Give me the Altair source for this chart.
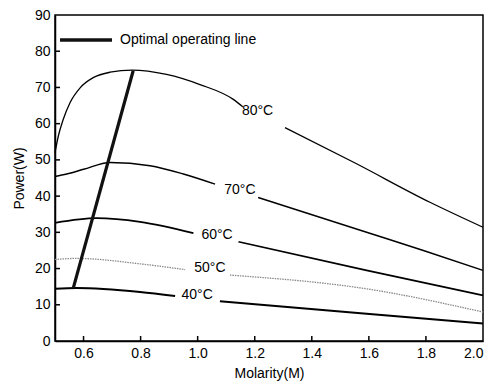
import altair as alt
import pandas as pd

# ---- data ----
c80_x = [0.5, 0.5117, 0.529, 0.5526, 0.588, 0.634, 0.693, 0.77, 0.891, 1.008, 1.125, 1.158, None, 1.306, 1.55, 1.814, 2.0]
c80_y = [52.0, 56.6, 61.2, 65.8, 69.9, 72.7, 74.2, 74.8, 73.6, 70.8, 66.7, 64.7, None, 58.9, 49.2, 38.3, 31.4]
c70_x = [0.5, 0.541, 0.6, 0.693, 0.833, 0.95, 1.061, None, 1.212, 1.592, 1.791, 2.0]
c70_y = [45.4, 46.1, 47.4, 49.3, 48.4, 46.1, 43.3, None, 39.6, 30.0, 25.0, 19.5]
c60_x = [0.5, 0.646, 0.798, 0.985, None, 1.143, 1.592, 2.0]
c60_y = [32.6, 33.9, 32.9, 29.8, None, 27.4, 19.5, 12.6]
c50_x = [0.5, 0.576, 0.798, 0.956, None, 1.113, 1.592, 2.0]
c50_y = [22.5, 22.8, 21.3, 19.7, None, 18.2, 14.4, 8.0]
c40_x = [0.5, 0.576, 0.798, 0.921, None, 1.078, 1.592, 2.0]
c40_y = [14.4, 14.6, 13.5, 12.4, None, 11.0, 7.5, 4.8]

label_text = ["80°C", "70°C", "60°C", "50°C", "40°C"]
label_x = [1.21, 1.148, 1.068, 1.043, 0.998]
label_y = [63.6, 41.8, 29.2, 20.1, 12.7]

opt_x = [0.564, 0.774]
opt_y = [14.6, 74.6]
opt_name = "Optimal operating line"

x_ticks = [0.6, 0.8, 1.0, 1.2, 1.4, 1.6, 1.8, 2.0]
y_ticks = [0, 10, 20, 30, 40, 50, 60, 70, 80, 90]

FONT = "Liberation Sans"
XS = alt.Scale(domain=[0.5, 2.0], nice=False)
YS = alt.Scale(domain=[0, 90], nice=False)

W, H = 428, 326


def curve_df(xs, ys, name):
    rows, seg = [], 0
    for x, y in zip(xs, ys):
        if x is None:
            seg += 1
            continue
        rows.append({"x": x, "y": y, "seg": f"{name}-{seg}"})
    return pd.DataFrame(rows)


xaxis = alt.Axis(values=x_ticks, format=".1f", tickSize=0, labelPadding=5,
                 labelFontSize=14, labelFont=FONT, labelColor="black",
                 title="Molarity(M)", titleFont=FONT, titleFontSize=14,
                 titleFontWeight="normal", titleColor="black", titlePadding=6,
                 domainColor="black", domainWidth=1.5, grid=False)
yaxis = alt.Axis(values=y_ticks, tickSize=0, labelPadding=5,
                 labelFontSize=14, labelFont=FONT, labelColor="black",
                 title="Power(W)", titleFont=FONT, titleFontSize=14,
                 titleFontWeight="normal", titleColor="black", titlePadding=8,
                 domainColor="black", domainWidth=1.5, grid=False)

X = lambda f="x:Q": alt.X(f, scale=XS, axis=xaxis)
Y = lambda f="y:Q": alt.Y(f, scale=YS, axis=yaxis)

styles = {
    "80": dict(color="black", strokeWidth=1.3),
    "70": dict(color="black", strokeWidth=1.5),
    "60": dict(color="black", strokeWidth=1.7),
    "50": dict(color="#8a8a8a", strokeWidth=1.3, strokeDash=[1.5, 1]),
    "40": dict(color="black", strokeWidth=2.0),
}
series = {"80": (c80_x, c80_y), "70": (c70_x, c70_y), "60": (c60_x, c60_y),
          "50": (c50_x, c50_y), "40": (c40_x, c40_y)}

layers = []
for key, (xs, ys) in series.items():
    df = curve_df(xs, ys, key)
    layers.append(alt.Chart(df).mark_line(interpolate="monotone", **styles[key]).encode(
        x=X(), y=Y(), detail="seg:N"))

# inward ticks
xt = pd.DataFrame({"x": x_ticks[:-1]})
layers.append(alt.Chart(xt).mark_rule(color="black", strokeWidth=1.5).encode(
    x=X(), y=alt.value(H), y2=alt.value(H - 5)))
yt = pd.DataFrame({"y": y_ticks[1:-1]})
layers.append(alt.Chart(yt).mark_rule(color="black", strokeWidth=1.5).encode(
    y=Y(), x=alt.value(0), x2=alt.value(5)))

# optimal operating line
odf = pd.DataFrame({"x": opt_x, "y": opt_y, "name": [opt_name] * 2})
layers.append(alt.Chart(odf).mark_line(strokeWidth=3.2).encode(
    x=X(), y=Y(),
    color=alt.Color("name:N", scale=alt.Scale(range=["#111111"]),
                    legend=alt.Legend(title=None, orient="none", legendX=3, legendY=-3,
                                      symbolType="stroke", symbolSize=2700,
                                      symbolStrokeWidth=3.5, labelFont=FONT,
                                      labelFontSize=14, labelColor="black",
                                      labelOffset=6, padding=0)),
))

# temperature labels
ldf = pd.DataFrame({"x": label_x, "y": label_y, "t": label_text})
layers.append(alt.Chart(ldf).mark_text(font=FONT, fontSize=14, color="black").encode(
    x=X(), y=Y(), text="t:N"))

chart = alt.layer(*layers).properties(
    width=W, height=H,
    autosize=alt.AutoSizeParams(type="none"),
    padding={"left": 47, "top": 7, "right": 9, "bottom": 44},
    background="white",
).configure_view(stroke="black", strokeWidth=1.5)

chart.save("out.html", embed_options={"renderer": "svg", "actions": False})
